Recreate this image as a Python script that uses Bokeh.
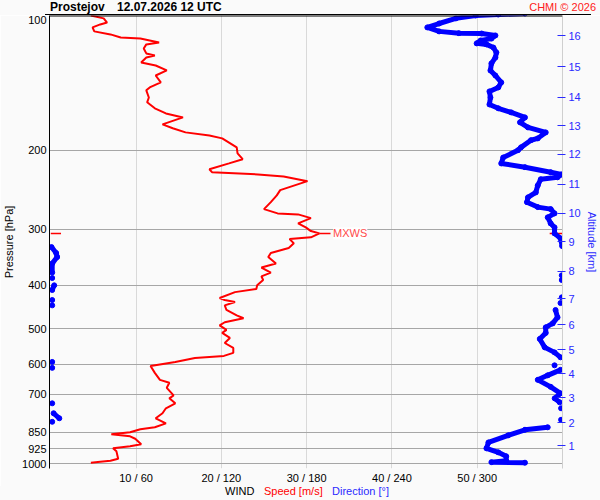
import numpy as np
from bokeh.plotting import figure
from bokeh.layouts import column
from bokeh.models import Range1d, LogAxis, FixedTicker, Label, Span, Div
from bokeh.embed import file_html
from bokeh.resources import INLINE

# --- header texts ---
station = "Prostejov"
stamp = "12.07.2026 12 UTC"
credit = "CHMI \u00a9 2026"

# --- axes ---
pressure_levels = [100, 200, 300, 400, 500, 600, 700, 850, 925, 1000]
altitude_km = [1, 2, 3, 4, 5, 6, 7, 8, 9, 10, 11, 12, 13, 14, 15, 16]
altitude_hpa = [912, 810, 713, 630, 557, 490, 429, 372, 320, 276, 238, 204, 176, 152, 130, 111]
speed_ticks = [10, 20, 30, 40, 50]
dir_ticks = [60, 120, 180, 240, 300]

# --- wind speed profile (hPa, m/s) ---
speed_hpa = [100, 101.5, 103.7, 104.7, 106.3, 108.5, 110.2, 112.0, 112.6, 114.9,
             116.0, 118.5, 121.5, 122.8, 124.1, 127.3, 129.3, 132.6, 136.1, 141.0,
             144.7, 146.9, 152.4, 156.2, 161.1, 165.4, 168.8, 175.0, 178.5, 182.3,
             185.2, 188.0, 196.9, 203.1, 209.2, 213.8, 220.3, 223.7, 226.2, 228.6,
             234.2, 245.3, 252.0, 260.9, 270.4, 276.4, 277.8, 283.2, 291.0, 297.0,
             302.7, 306.3, 312.6, 315.3, 322.4, 330.2, 338.9, 345.8, 357.6, 365.0,
             374.6, 382.0, 389.2, 400.0, 407.6, 414.2, 427.0, 431.3, 435.8, 443.3,
             454.0, 466.7, 473.7, 483.5, 491.3, 503.0, 510.8, 524.1, 537.9, 551.6,
             565.9, 574.8, 580.7, 592.8, 605.2, 627.1, 650.0, 660.0, 677.2, 703.8,
             714.7, 733.3, 752.2, 771.7, 791.9, 812.7, 829.5, 838.1, 851.1, 859.9,
             868.8, 879.6, 905.3, 914.6, 924.1, 938.6, 974.7, 984.7, 989.8, 994.9]
speed_ms = [4.7, 6.2, 6.6, 5.8, 4.9, 5.1, 7.0, 8.2, 10.5, 12.7,
            11.2, 10.9, 11.2, 12.2, 11.2, 10.6, 12.3, 13.6, 12.3, 12.9,
            11.6, 11.2, 11.5, 11.3, 12.2, 13.5, 15.5, 13.1, 14.3, 15.8,
            18.6, 20.1, 21.8, 21.9, 22.5, 20.9, 18.6, 18.9, 24.3, 27.3,
            30.1, 26.9, 26.5, 25.8, 25.0, 26.6, 29.0, 30.5, 29.0, 29.9,
            30.5, 31.5, 30.5, 28.0, 28.5, 27.9, 25.8, 25.5, 26.4, 24.7,
            25.8, 24.7, 24.9, 24.2, 24.1, 21.6, 19.8, 20.4, 21.6, 20.4,
            20.6, 21.8, 22.6, 20.4, 19.8, 20.6, 20.1, 21.0, 20.4, 21.4,
            21.4, 20.3, 16.9, 14.6, 11.7, 12.2, 12.8, 13.9, 13.6, 14.4,
            13.9, 14.6, 13.5, 13.1, 12.3, 13.5, 12.2, 10.5, 9.3, 7.1,
            9.3, 9.9, 10.6, 9.3, 7.3, 7.7, 7.9, 7.0, 5.8, 4.7]

# --- wind direction profile (hPa, deg) ---
dir_hpa = [99.0, 99.5, 100.0, 101.5, 104.2, 106.3, 108.5, 109.5, 109.7, 110.8,
           112.6, 113.7, 115.4, 116.0, 117.9, 120.9, 124.1, 127.9, 132.6, 136.1,
           141.0, 144.7, 147.7, 152.4, 157.9, 161.1, 164.5, 168.8, 173.1, 177.7,
           182.3, 188.0, 189.8, 196.9, 199.8, 207.4, 213.8, 218.0, 223.7, 226.2,
           229.6, 231.9, 239.4, 248.2, 254.6, 260.9, 267.6, 270.4, 276.4, 282.1,
           291.0, 297.0, 306.3, 314.2, 327.0, 328.6, 338.9, 345.8, 357.6, 374.6,
           380.0, 385.2, 389.2, 400.0, 409.7, 425.5, 431.3, 438.1, 443.3, 454.0,
           471.5, 486.4, 496.4, 510.8, 526.8, 550.1, 564.5, 579.0, 592.8, 603.3,
           611.2, 617.5, 635.1, 650.0, 673.8, 696.7, 714.7, 729.6, 733.3, 752.2,
           771.7, 791.9, 798.0, 806.3, 829.5, 840.0, 864.4, 896.6, 924.1, 943.4,
           962.8, 984.7, 992.0, 994.9]
dir_deg = [333.6, 314.8, 298.9, 285.0, 273.2, 264.9, 273.2, 287.1, 303.1, 312.8,
           310.0, 302.4, 299.6, 306.5, 311.4, 313.5, 312.8, 310.0, 309.3, 312.8,
           316.9, 314.8, 308.6, 309.3, 308.6, 314.8, 323.9, 333.6, 330.1, 335.7,
           348.2, 342.6, 337.8, 330.8, 328.7, 318.3, 316.9, 333.6, 351.7, 359.3,
           356.5, 344.7, 342.6, 341.2, 335.7, 335.0, 342.6, 351.7, 354.4, 349.6,
           351.7, 354.4, 354.4, 358.6, 359.8, 0.5, 3.8, 4.5, 1.0, 1.0,
           359.5, 1.0, 359.5, 2.4, 1.0, 359.5, 1.0, 358.6, 1.0, 355.1,
           356.5, 353.1, 348.2, 348.2, 344.0, 347.5, 354.4, 358.6, 1.0, 354.4,
           1.0, 358.6, 349.6, 342.6, 351.7, 358.6, 354.5, 358.0, 1.0, 359.0,
           2.0, 6.0, 359.0, 1.0, 349.6, 333.6, 321.8, 307.9, 306.5, 314.8,
           320.4, 320.4, 310.0, 333.6]

FONT = "Liberation Sans"
RED = "#ff0000"
BLUE = "#0000ff"
LBLUE = "#2a2aff"
BG = "#fafafa"

p = figure(width=600, height=471, y_axis_type="log", title=None,
           x_range=Range1d(-0.15, 60), y_range=Range1d(1025, 100),
           output_backend="svg", toolbar_location=None, margin=0,
           min_border_left=45, min_border_right=35, min_border_top=0, min_border_bottom=17,
           background_fill_color=BG, border_fill_color=BG, outline_line_color=None)

# left pressure axis
left = p.yaxis[0]
left.ticker = FixedTicker(ticks=pressure_levels)
left.major_label_overrides = {v: str(v) for v in pressure_levels}
left.axis_line_color = "black"
left.major_tick_in = 0
left.major_tick_out = 0
left.minor_tick_out = 0
left.minor_tick_in = 0
left.major_label_standoff = 3
left.major_label_text_font = FONT
left.major_label_text_font_size = "11px"
left.major_label_text_color = "black"
left.axis_label = "Pressure [hPa]"
left.axis_label_standoff = 4
left.axis_label_text_font = FONT
left.axis_label_text_font_size = "11px"
left.axis_label_text_font_style = "normal"
left.axis_label_text_color = "black"

# bottom speed / direction axis
bottom = p.xaxis[0]
bottom.ticker = FixedTicker(ticks=speed_ticks)
bottom.major_label_overrides = {s: f"{s} / {d}" for s, d in zip(speed_ticks, dir_ticks)}
bottom.axis_line_color = None
bottom.major_tick_in = 0
bottom.major_tick_out = 0
bottom.minor_tick_out = 0
bottom.major_label_standoff = 3
bottom.major_label_text_font = FONT
bottom.major_label_text_font_size = "11px"
bottom.major_label_text_color = "black"

# grids
p.ygrid.ticker = FixedTicker(ticks=pressure_levels[1:])
p.ygrid.grid_line_color = "#a6a6a6"
p.xgrid.ticker = FixedTicker(ticks=speed_ticks)
p.xgrid.grid_line_color = "#d9d9d9"

# top border line
p.add_layout(Span(location=pressure_levels[0], dimension="width", line_color="black", line_width=2))

# right altitude axis
right = LogAxis(ticker=FixedTicker(ticks=altitude_hpa),
                major_label_overrides={ph: str(km) for ph, km in zip(altitude_hpa, altitude_km)},
                axis_line_color="#cfcfcf", major_tick_in=5, major_tick_out=3,
                major_tick_line_color=LBLUE, minor_tick_out=0, minor_tick_in=0,
                major_label_standoff=3, major_label_text_font=FONT,
                major_label_text_font_size="11px", major_label_text_color=LBLUE,
                axis_label="Altitude [km]", axis_label_standoff=2, axis_label_text_font=FONT,
                axis_label_text_font_size="11px", axis_label_text_font_style="normal",
                axis_label_text_color=LBLUE)
p.add_layout(right, "right")

# wind speed
p.line(speed_ms, speed_hpa, color=RED, line_width=2)

# maximum wind marker
imax = int(np.argmax(speed_ms))
mx_s, mx_p = speed_ms[imax], speed_hpa[imax]
p.segment(x0=[mx_s, 0, 58.5], y0=[mx_p] * 3, x1=[mx_s + 1.3, 1.2, 60], y1=[mx_p] * 3,
          color=RED, line_width=1.5)
p.add_layout(Label(x=mx_s + 1.6, y=mx_p, text="MXWS", text_font=FONT, text_font_size="11px",
                   text_color="#ff4a4a", text_baseline="middle",
                   background_fill_color="white"))

# wind direction, broken where it wraps through north
dx, dy = [], []
for k, (ph, dd) in enumerate(zip(dir_hpa, dir_deg)):
    if k and abs(dd - dir_deg[k - 1]) > 180:
        dx.append(np.nan)
        dy.append(np.nan)
    dx.append(dd / 6.0)
    dy.append(ph)
p.line(np.array(dx), np.array(dy), color=BLUE, line_width=5)
p.scatter(np.array(dir_deg) / 6.0, dir_hpa, size=5, color=BLUE)

# header and footer texts
base = "font-family:'Liberation Sans';position:absolute;white-space:nowrap;line-height:13px;"
header = Div(width=600, height=15, margin=0, text=(
    f'<div style="position:relative;width:600px;height:15px;background:{BG}">'
    f'<span style="{base}left:50px;top:1px;font-size:12px;font-weight:bold;color:black">{station}</span>'
    f'<span style="{base}left:117px;top:1px;font-size:12px;font-weight:bold;color:black">{stamp}</span>'
    f'<span style="{base}right:4px;top:1px;font-size:11px;color:#ff2020">{credit}</span>'
    '<div style="position:absolute;left:45px;top:14px;width:546px;height:1px;background:black"></div>'
    '</div>'))
footer = Div(width=600, height=14, margin=0, text=(
    f'<div style="position:relative;width:600px;height:14px;background:{BG}">'
    f'<span style="{base}left:225px;top:-1px;font-size:11px;color:black">WIND</span>'
    f'<span style="{base}left:264px;top:-1px;font-size:11px;color:{RED}">Speed [m/s]</span>'
    f'<span style="{base}left:332px;top:-1px;font-size:11px;color:{LBLUE}">Direction [\u00b0]</span>'
    '</div>'))

page = column(header, p, footer, spacing=0)

open("out.html", "w").write(file_html(page, INLINE))
